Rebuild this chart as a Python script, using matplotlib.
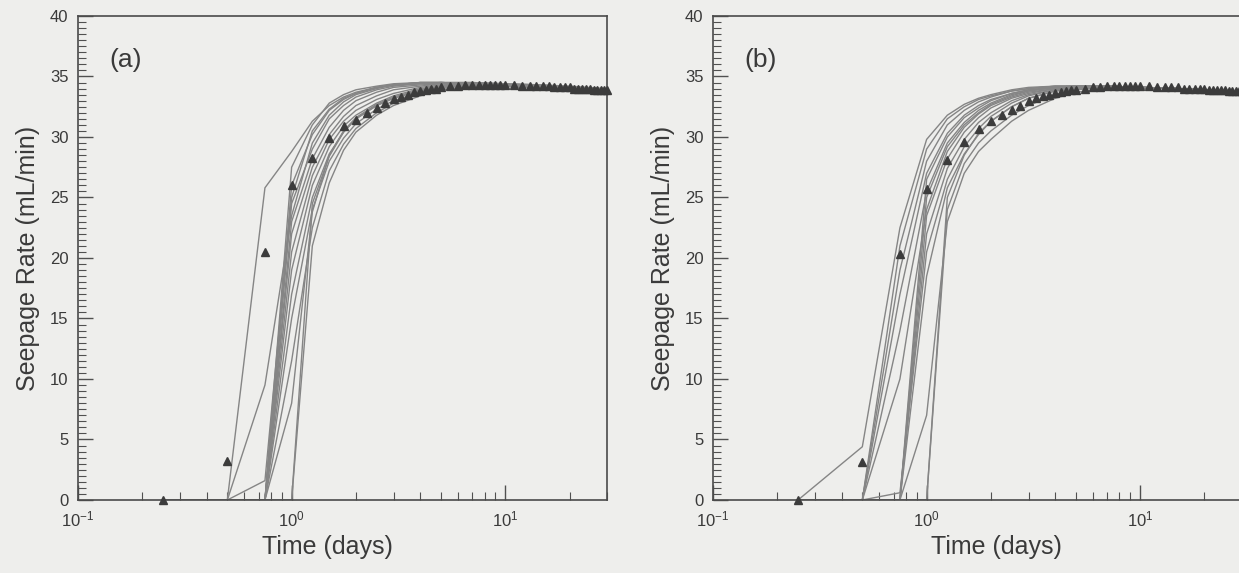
import numpy as np
import matplotlib.pyplot as plt
from matplotlib.ticker import LogLocator, MultipleLocator

plt.rcParams['font.family'] = ['Liberation Sans', 'DejaVu Sans']

# simulated runs, sampled at these times (days)
sim_t = [0.25, 0.5, 0.75, 1.0, 1.25, 1.5, 1.75, 2.0, 2.5, 3.0, 4.0, 5.0, 7.0, 10.0, 15.0, 20.0, 30.0]

# seepage rate (mL/min) of each run, case (a)
runs_a = [
    [0, 0, 25.8, 28.8, 31.3, 32.6, 33.3, 33.7, 34.1, 34.3, 34.5, 34.5, 34.5, 34.4, 34.3, 34.2, 34.0],
    [0, 0, 9.5, 23.5, 29.5, 31.8, 32.9, 33.5, 34.0, 34.3, 34.5, 34.5, 34.5, 34.4, 34.3, 34.1, 33.9],
    [0, 0, 1.6, 25.0, 30.5, 32.3, 33.2, 33.6, 34.1, 34.3, 34.5, 34.5, 34.4, 34.3, 34.2, 34.1, 33.9],
    [0, 0, 0, 27.5, 31.0, 32.8, 33.5, 33.9, 34.2, 34.4, 34.5, 34.5, 34.4, 34.3, 34.2, 34.1, 33.9],
    [0, 0, 0, 26.0, 30.2, 32.2, 33.1, 33.6, 34.1, 34.3, 34.4, 34.5, 34.4, 34.3, 34.2, 34.0, 33.8],
    [0, 0, 0, 24.5, 29.0, 31.5, 32.6, 33.3, 33.9, 34.2, 34.4, 34.5, 34.4, 34.3, 34.2, 34.0, 33.8],
    [0, 0, 0, 23.0, 28.2, 30.8, 32.2, 33.0, 33.7, 34.1, 34.3, 34.4, 34.4, 34.3, 34.2, 34.0, 33.8],
    [0, 0, 0, 22.0, 27.5, 30.2, 31.7, 32.6, 33.4, 33.9, 34.2, 34.4, 34.4, 34.3, 34.1, 34.0, 33.7],
    [0, 0, 0, 20.5, 26.8, 29.8, 31.3, 32.2, 33.1, 33.6, 34.1, 34.3, 34.4, 34.3, 34.1, 33.9, 33.7],
    [0, 0, 0, 19.0, 26.0, 29.2, 30.9, 31.8, 32.8, 33.4, 34.0, 34.2, 34.4, 34.3, 34.1, 33.9, 33.7],
    [0, 0, 0, 17.0, 25.0, 28.6, 30.4, 31.5, 32.6, 33.2, 33.9, 34.2, 34.3, 34.2, 34.1, 33.9, 33.6],
    [0, 0, 0, 15.0, 24.0, 28.0, 29.9, 31.1, 32.3, 33.0, 33.7, 34.1, 34.3, 34.2, 34.1, 33.9, 33.6],
    [0, 0, 0, 11.5, 22.5, 27.2, 29.4, 30.7, 32.0, 32.8, 33.6, 34.0, 34.3, 34.2, 34.0, 33.9, 33.6],
    [0, 0, 0, 8.0, 23.8, 28.5, 30.5, 31.6, 32.7, 33.3, 33.9, 34.2, 34.3, 34.2, 34.1, 33.9, 33.7],
    [0, 0, 0, 0, 21.0, 26.2, 28.9, 30.4, 31.8, 32.6, 33.4, 33.9, 34.2, 34.2, 34.0, 33.9, 33.6],
    [0, 0, 0, 0, 24.5, 28.4, 30.4, 31.5, 32.6, 33.2, 33.8, 34.1, 34.3, 34.2, 34.1, 33.9, 33.7],
]

# seepage rate (mL/min) of each run, case (b)
runs_b = [
    [0, 4.4, 22.5, 29.8, 31.8, 32.7, 33.2, 33.5, 33.9, 34.1, 34.2, 34.2, 34.2, 34.1, 34.0, 33.9, 33.7],
    [0, 0, 21.0, 29.0, 31.5, 32.5, 33.1, 33.4, 33.8, 34.0, 34.2, 34.2, 34.2, 34.1, 34.0, 33.9, 33.7],
    [0, 0, 19.0, 28.0, 31.0, 32.2, 32.9, 33.3, 33.8, 34.0, 34.2, 34.2, 34.2, 34.1, 34.0, 33.9, 33.7],
    [0, 0, 17.0, 27.0, 30.3, 31.8, 32.6, 33.1, 33.6, 33.9, 34.1, 34.2, 34.2, 34.1, 34.0, 33.9, 33.7],
    [0, 0, 14.0, 25.5, 29.5, 31.2, 32.2, 32.8, 33.5, 33.8, 34.1, 34.2, 34.2, 34.1, 34.0, 33.9, 33.7],
    [0, 0, 10.0, 24.0, 28.8, 30.8, 31.9, 32.6, 33.3, 33.7, 34.0, 34.1, 34.2, 34.1, 34.0, 33.9, 33.7],
    [0, 0, 0, 26.5, 30.0, 31.6, 32.4, 33.0, 33.6, 33.9, 34.1, 34.2, 34.2, 34.1, 34.0, 33.9, 33.7],
    [0, 0, 0, 25.0, 29.2, 31.0, 32.0, 32.7, 33.4, 33.8, 34.1, 34.2, 34.2, 34.1, 34.0, 33.9, 33.7],
    [0, 0, 0, 23.5, 28.2, 30.4, 31.6, 32.4, 33.2, 33.6, 34.0, 34.1, 34.2, 34.1, 34.0, 33.8, 33.6],
    [0, 0, 0, 22.0, 27.4, 29.8, 31.2, 32.0, 33.0, 33.5, 33.9, 34.1, 34.2, 34.1, 34.0, 33.8, 33.6],
    [0, 0, 0.6, 20.5, 26.5, 29.2, 30.7, 31.7, 32.8, 33.4, 33.9, 34.1, 34.2, 34.1, 34.0, 33.8, 33.6],
    [0, 0, 0, 18.5, 25.8, 28.6, 30.2, 31.3, 32.5, 33.2, 33.8, 34.0, 34.2, 34.1, 34.0, 33.8, 33.6],
    [0, 0, 0, 0, 25.0, 28.5, 30.3, 31.3, 32.5, 33.2, 33.8, 34.0, 34.1, 34.1, 34.0, 33.8, 33.6],
    [0, 0, 0, 0, 24.0, 27.8, 29.5, 30.5, 31.8, 32.6, 33.5, 33.9, 34.1, 34.1, 34.0, 33.8, 33.6],
    [0, 0, 0, 7.0, 23.0, 27.0, 28.8, 29.8, 31.3, 32.2, 33.2, 33.7, 34.0, 34.1, 34.0, 33.8, 33.6],
]

# measured seepage rate
obs_t = [0.25, 0.5, 0.75, 1.0, 1.25, 1.5, 1.75, 2.0, 2.25, 2.5, 2.75, 3.0, 3.25, 3.5, 3.75,
         4.0, 4.25, 4.5, 4.75, 5.0, 5.5, 6.0, 6.5, 7.0, 7.5, 8.0, 8.5, 9.0, 9.5, 10.0,
         11, 12, 13, 14, 15, 16, 17, 18, 19, 20, 21, 22, 23, 24, 25, 26, 27, 28, 29, 30]
obs_a = [0.0, 3.2, 20.5, 26.0, 28.3, 29.9, 30.9, 31.4, 32.0, 32.4, 32.8, 33.1, 33.3, 33.5, 33.7,
         33.8, 33.9, 34.0, 34.0, 34.1, 34.2, 34.2, 34.3, 34.3, 34.3, 34.3, 34.3, 34.3, 34.3, 34.3,
         34.3, 34.2, 34.2, 34.2, 34.2, 34.2, 34.1, 34.1, 34.1, 34.1, 34.0, 34.0, 34.0, 34.0, 34.0,
         33.9, 33.9, 33.9, 33.9, 33.9]
obs_b = [0.0, 3.1, 20.3, 25.7, 28.1, 29.6, 30.7, 31.3, 31.8, 32.2, 32.6, 33.0, 33.2, 33.4, 33.5,
         33.6, 33.7, 33.8, 33.9, 33.9, 34.0, 34.1, 34.1, 34.2, 34.2, 34.2, 34.2, 34.2, 34.2, 34.2,
         34.2, 34.1, 34.1, 34.1, 34.1, 34.0, 34.0, 34.0, 34.0, 34.0, 33.9, 33.9, 33.9, 33.9, 33.9,
         33.8, 33.8, 33.8, 33.8, 33.8]

paper = '#eeeeec'
ink = '#3a3a3a'
line_grey = '#858585'


def draw_panel(ax, runs, obs, tag, xlab_x):
    for run in runs:
        ax.plot(sim_t, run, color=line_grey, lw=1.0)
    ax.plot(obs_t, obs, ls='none', marker='^', ms=5.5, color='#3c3c3c',
            clip_on=False, zorder=5)

    ax.set_facecolor(paper)
    ax.set_xscale('log')
    ax.set_xlim(0.1, 30)
    ax.set_ylim(0, 40)
    ax.yaxis.set_major_locator(MultipleLocator(5))
    ax.yaxis.set_minor_locator(MultipleLocator(0.5))
    ax.xaxis.set_major_locator(LogLocator(base=10))
    ax.xaxis.set_minor_locator(LogLocator(base=10, subs=np.arange(2, 10)))
    ax.tick_params(which='both', direction='in', top=False, right=False,
                   color='#505050', labelcolor=ink, labelsize=12)
    ax.tick_params(which='major', length=11, width=1.0, pad=7)
    ax.tick_params(which='minor', length=6, width=0.8)
    for s in ax.spines.values():
        s.set_color('#4a4a4a')
        s.set_linewidth(1.2)

    ax.set_xlabel('Time (days)', fontsize=18, color=ink)
    ax.set_ylabel('Seepage Rate (mL/min)', fontsize=18, color=ink)
    ax.xaxis.set_label_coords(xlab_x, -0.072)
    ax.yaxis.set_label_coords(-0.072, 0.5)
    ax.text(0.06, 0.91, tag, transform=ax.transAxes, fontsize=19,
            color=ink, va='center', ha='left')


fig = plt.figure(figsize=(12.39, 5.73), dpi=100, facecolor=paper)
ax_a = fig.add_axes([0.0630, 0.1274, 0.4270, 0.8447])
ax_b = fig.add_axes([0.5755, 0.1274, 0.4270, 0.8447])

draw_panel(ax_a, runs_a, obs_a, '(a)', 0.4716)
draw_panel(ax_b, runs_b, obs_b, '(b)', 0.535)

fig.savefig('out.png', dpi=100, facecolor=paper)
